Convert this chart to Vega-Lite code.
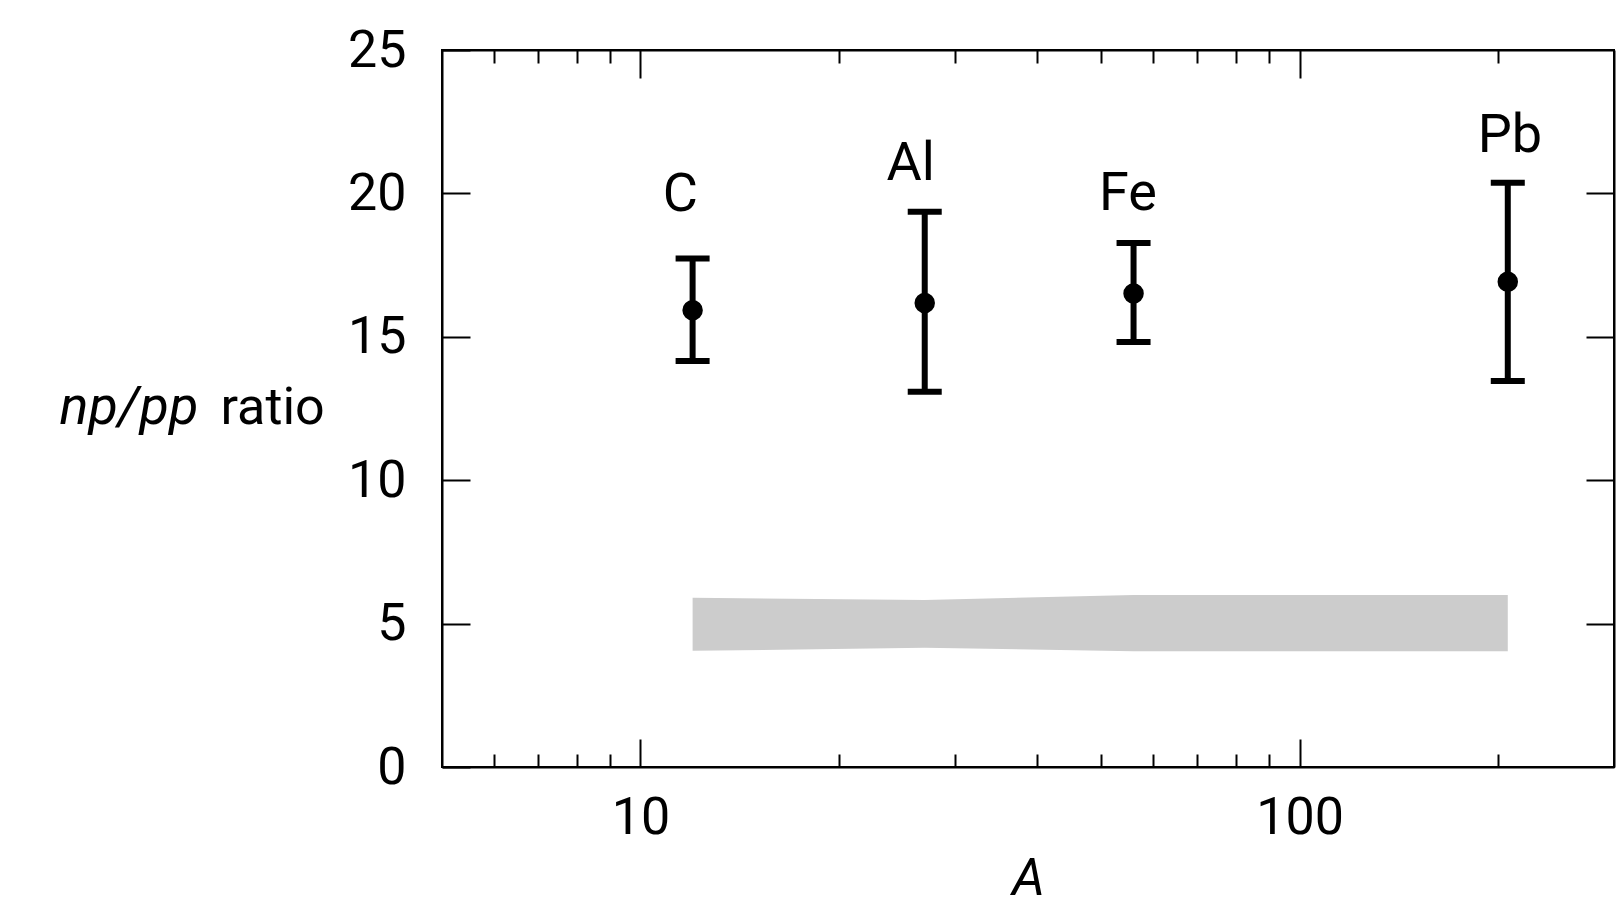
{
  "$schema": "https://vega.github.io/schema/vega-lite/v6.json",
  "width": 1172,
  "height": 717,
  "autosize": {"type": "none"},
  "padding": {"left": 442, "top": 50, "right": 8, "bottom": 142},
  "background": "white",
  "config": {
    "view": {"stroke": "black", "strokeWidth": 2},
    "font": "Roboto",
    "axis": {
      "grid": false,
      "domainColor": "black",
      "domainWidth": 2,
      "tickColor": "black",
      "tickWidth": 2,
      "labelColor": "black",
      "labelFont": "Roboto",
      "labelFontSize": 52,
      "titleFont": "Roboto",
      "titleFontSize": 52,
      "titleColor": "black",
      "titleFontWeight": "normal",
      "labelOverlap": false,
      "labelFlush": false
    }
  },
  "data": {
    "values": [
      {"element": "C", "A": 12, "ratio": 15.93, "lower": 14.16, "upper": 17.73, "bandLo": 4.05, "bandHi": 5.9, "labelA": 11.5, "labelY": 19.4},
      {"element": "Al", "A": 27, "ratio": 16.18, "lower": 13.08, "upper": 19.36, "bandLo": 4.16, "bandHi": 5.82, "labelA": 25.7, "labelY": 20.45},
      {"element": "Fe", "A": 56, "ratio": 16.51, "lower": 14.82, "upper": 18.27, "bandLo": 4.04, "bandHi": 6.0, "labelA": 54.9, "labelY": 19.42},
      {"element": "Pb", "A": 207, "ratio": 16.92, "lower": 13.46, "upper": 20.37, "bandLo": 4.04, "bandHi": 6.0, "labelA": 208.6, "labelY": 21.45}
    ]
  },
  "layer": [
    {
      "mark": {"type": "area", "color": "#cccccc", "opacity": 1},
      "encoding": {
        "x": {
          "field": "A", "type": "quantitative",
          "scale": {"type": "log", "domain": [5, 300], "nice": false},
          "axis": {
            "orient": "bottom",
            "values": [6, 7, 8, 9, 10, 20, 30, 40, 50, 60, 70, 80, 90, 100, 200],
            "format": "d",
            "tickSize": {"condition": {"test": "datum.value == 10 || datum.value == 100", "value": -28}, "value": -13},
            "labelExpr": "datum.value == 10 || datum.value == 100 ? datum.label : ''",
            "labelPadding": 53,
            "title": "A",
            "titleFontStyle": "italic",
            "titleY": 127,
            "titleBaseline": "alphabetic"
          }
        },
        "y": {
          "field": "bandLo", "type": "quantitative",
          "scale": {"domain": [0, 25], "nice": false},
          "axis": {
            "orient": "left",
            "values": [0, 5, 10, 15, 20, 25],
            "tickSize": -28,
            "labelPadding": 64,
            "title": "ratio",
            "titleAngle": 0,
            "titleAlign": "left",
            "titleBaseline": "alphabetic",
            "titleX": -222,
            "titleY": 373
          }
        },
        "y2": {"field": "bandHi"}
      }
    },
    {
      "mark": {"type": "rule", "color": "black", "strokeWidth": 6, "opacity": 1},
      "encoding": {
        "x": {
          "field": "A", "type": "quantitative",
          "axis": {
            "orient": "top",
            "values": [6, 7, 8, 9, 10, 20, 30, 40, 50, 60, 70, 80, 90, 100, 200],
            "tickSize": {"condition": {"test": "datum.value == 10 || datum.value == 100", "value": -28}, "value": -13},
            "labels": false,
            "title": null
          }
        },
        "y": {
          "field": "lower", "type": "quantitative",
          "axis": {
            "orient": "right",
            "values": [5, 10, 15, 20],
            "tickSize": -28,
            "labels": false,
            "title": "np/pp",
            "titleFontStyle": "italic",
            "titleFontSize": 54,
            "titleAngle": 0,
            "titleAlign": "left",
            "titleBaseline": "alphabetic",
            "titleX": -1555,
            "titleY": 373
          }
        },
        "y2": {"field": "upper"}
      }
    },
    {
      "mark": {"type": "tick", "orient": "horizontal", "color": "black", "opacity": 1, "size": 34, "thickness": 6},
      "encoding": {
        "x": {"field": "A", "type": "quantitative", "axis": null},
        "y": {"field": "upper", "type": "quantitative", "axis": null}
      }
    },
    {
      "mark": {"type": "tick", "orient": "horizontal", "color": "black", "opacity": 1, "size": 34, "thickness": 6},
      "encoding": {
        "x": {"field": "A", "type": "quantitative", "axis": null},
        "y": {"field": "lower", "type": "quantitative", "axis": null}
      }
    },
    {
      "mark": {"type": "point", "filled": true, "color": "black", "opacity": 1, "size": 420},
      "encoding": {
        "x": {"field": "A", "type": "quantitative", "axis": null},
        "y": {"field": "ratio", "type": "quantitative", "axis": null}
      }
    },
    {
      "mark": {"type": "text", "color": "black", "font": "Roboto", "fontSize": 54, "align": "center", "baseline": "alphabetic"},
      "encoding": {
        "x": {"field": "labelA", "type": "quantitative", "axis": null},
        "y": {"field": "labelY", "type": "quantitative", "axis": null},
        "text": {"field": "element"}
      }
    }
  ]
}
